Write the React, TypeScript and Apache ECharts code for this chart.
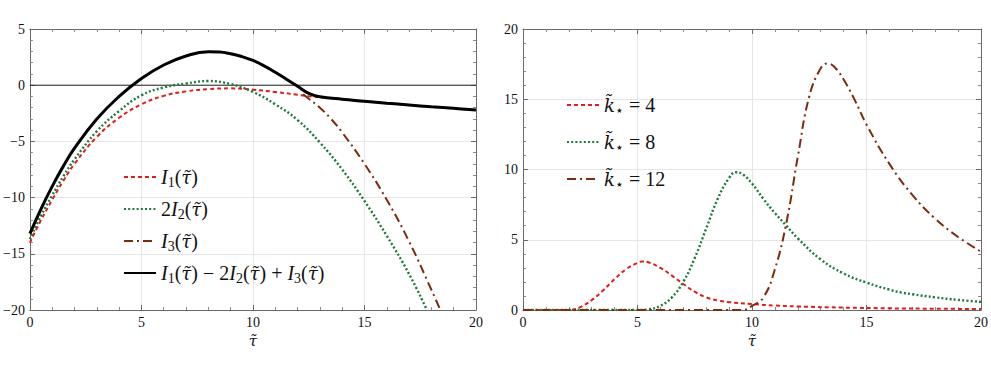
import React, { useEffect, useRef } from 'react';
import * as echarts from 'echarts';

// ---------- Left panel data ----------
const i1Tau = [0, 0.5, 1, 1.5, 2, 3, 4, 5, 6, 7, 8, 9, 10, 11, 12, 12.5, 13, 14, 15, 16, 17, 18, 19, 20];
const i1Val = [-14.0, -12.0, -10.2, -8.5, -7.0, -4.6, -2.9, -1.7, -0.95, -0.55, -0.35, -0.28, -0.4, -0.6, -0.85, -0.98, -1.08, -1.25, -1.42, -1.6, -1.76, -1.92, -2.06, -2.2];

const i2Tau = [0, 0.5, 1, 1.5, 2, 3, 4, 5, 6, 7, 8, 9, 10, 11, 12, 13, 14, 15, 16, 17, 17.8];
const i2Val = [-13.7, -11.6, -9.8, -8.1, -6.6, -4.1, -2.3, -0.9, -0.2, 0.15, 0.37, 0.1, -0.6, -1.7, -3.1, -5.1, -7.5, -10.3, -13.4, -16.8, -20.0];

const i3Tau = [12.25, 12.5, 13, 13.5, 14, 15, 16, 17, 18, 18.4];
const i3Val = [-0.8, -1.2, -2.0, -3.0, -4.2, -7.0, -10.2, -13.9, -18.2, -20.0];

const combTau = [0, 0.5, 1, 1.5, 2, 3, 4, 5, 6, 7, 8, 8.5, 9, 9.5, 10, 10.5, 11, 11.5, 12, 12.5, 13, 14, 15, 16, 17, 18, 19, 20];
const combVal = [-13.2, -11.0, -9.0, -7.2, -5.6, -3.0, -1.0, 0.6, 1.8, 2.6, 2.97, 2.95, 2.8, 2.55, 2.2, 1.72, 1.15, 0.53, -0.1, -0.72, -1.02, -1.25, -1.42, -1.6, -1.76, -1.92, -2.06, -2.2];

// ---------- Right panel data ----------
const k4Tau = [0, 1, 2, 2.2, 2.5, 3, 3.5, 4, 4.5, 5, 5.2, 5.5, 6, 6.5, 7, 7.5, 8, 8.5, 9, 10, 11, 12, 14, 16, 18, 20];
const k4Val = [0, 0, 0, 0.03, 0.2, 0.7, 1.4, 2.2, 2.9, 3.35, 3.45, 3.38, 3.0, 2.45, 1.85, 1.3, 0.9, 0.68, 0.56, 0.42, 0.32, 0.25, 0.17, 0.12, 0.09, 0.07];

const k8Tau = [0, 5, 5.5, 6, 6.5, 7, 7.5, 8, 8.5, 9, 9.3, 9.6, 10, 10.5, 11, 11.5, 12, 13, 14, 15, 16, 16.5, 17, 18, 19, 20];
const k8Val = [0, 0, 0.05, 0.3, 0.9, 2.0, 3.7, 5.8, 7.9, 9.4, 9.8, 9.65, 9.0, 7.9, 6.9, 6.0, 5.1, 3.6, 2.6, 1.95, 1.45, 1.25, 1.12, 0.9, 0.72, 0.58];

const k12Tau = [0, 9.6, 10, 10.5, 11, 11.5, 12, 12.5, 13, 13.3, 13.6, 14, 14.5, 15, 16, 17, 18, 19, 20];
const k12Val = [0, 0, 0.3, 0.9, 2.9, 6.2, 10.9, 15.2, 17.2, 17.55, 17.3, 16.4, 14.9, 13.2, 10.4, 8.2, 6.5, 5.2, 4.15];

const leftNames = ['I₁(τ̃)', '2I₂(τ̃)', 'I₃(τ̃)', 'I₁(τ̃) − 2I₂(τ̃) + I₃(τ̃)'];
const rightNames = ['k̃⋆ = 4', 'k̃⋆ = 8', 'k̃⋆ = 12'];
const leftTicks = [-20, -15, -10, -5, 0, 5];
const rightTicks = [0, 5, 10, 15, 20];

const SERIF = '"Liberation Serif", "DejaVu Serif", serif';
const MATH = '"DejaVu Serif", "Liberation Serif", serif';
const RED = '#dc1f1a';
const GREEN = '#1b7a3a';
const BROWN = '#7a2c0c';

const zip = (a: number[], b: number[]) => a.map((x, i) => [x, b[i]]);

const richLabels: Record<string, string> = {
  [leftNames[0]]: '{it|I}{sub|1}{rm|(}{tl|τ̃}{rm|)}',
  [leftNames[1]]: '{rm|2}{it|I}{sub|2}{rm|(}{tl|τ̃}{rm|)}',
  [leftNames[2]]: '{it|I}{sub|3}{rm|(}{tl|τ̃}{rm|)}',
  [leftNames[3]]: '{it|I}{sub|1}{rm|(}{tl|τ̃}{rm|) − 2}{it|I}{sub|2}{rm|(}{tl|τ̃}{rm|) + }{it|I}{sub|3}{rm|(}{tl|τ̃}{rm|)}',
  [rightNames[0]]: '{tl|k̃}{sub|⋆}{rm| = 4}',
  [rightNames[1]]: '{tl|k̃}{sub|⋆}{rm| = 8}',
  [rightNames[2]]: '{tl|k̃}{sub|⋆}{rm| = 12}',
};

const fmt = (v: number) => (v < 0 ? '−' + Math.abs(v) : String(v));

function makeRich(size: number, lh: number) {
  return {
    it: { fontFamily: SERIF, fontStyle: 'italic', fontSize: size, color: '#111', lineHeight: lh },
    tl: { fontFamily: MATH, fontStyle: 'italic', fontSize: size - 2, color: '#111', lineHeight: lh },
    rm: { fontFamily: SERIF, fontSize: size, color: '#111', lineHeight: lh },
    sub: { fontFamily: SERIF, fontSize: Math.round(size * 0.68), color: '#111', lineHeight: lh, padding: [10, 0, 0, 0] },
  };
}

function axis(gridIndex: number, min: number, max: number, interval: number, position: string, main: boolean, name?: string) {
  return {
    type: 'value',
    gridIndex,
    min,
    max,
    interval,
    position,
    name: name,
    nameLocation: 'middle',
    nameGap: 23,
    nameTextStyle: { fontFamily: MATH, fontStyle: 'italic', fontSize: 15, color: '#111' },
    axisLine: { show: true, onZero: false, lineStyle: { color: '#6a6a6a', width: 1 } },
    axisTick: { show: true, inside: true, length: 5, lineStyle: { color: '#6a6a6a' } },
    minorTick: { show: true, splitNumber: 5, length: 3, lineStyle: { color: '#8a8a8a' } },
    splitLine: { show: main, lineStyle: { color: '#e6e6e6', width: 1 } },
    axisLabel: { show: main, fontFamily: SERIF, fontSize: 14, color: '#111', formatter: fmt, margin: 5 },
  };
}

function line(name: string, data: number[][], color: string, type: any, width: number, panel: number, extra: any = {}) {
  return {
    type: 'line',
    name,
    data,
    xAxisIndex: panel * 2,
    yAxisIndex: panel * 2,
    symbol: 'none',
    smooth: 0.45,
    lineStyle: { color, type, width, cap: 'butt' },
    itemStyle: { color },
    clip: true,
    ...extra,
  };
}

const legendBase = {
  orient: 'vertical',
  itemWidth: 32,
  itemHeight: 14,
  itemStyle: { opacity: 0, borderWidth: 0 },
  formatter: (n: string) => richLabels[n] || n,
};

export default function App() {
  const ref = useRef<HTMLDivElement>(null);
  useEffect(() => {
    const chart = echarts.init(ref.current!, null, { renderer: 'svg' });
    const option: any = {
      animation: false,
      backgroundColor: '#ffffff',
      grid: [
        { left: 27, top: 29, width: 449, height: 281 },
        { left: 523, top: 29, width: 458, height: 281 },
      ],
      xAxis: [
        axis(0, 0, 20, 5, 'bottom', true, 'τ̃'),
        axis(0, 0, 20, 5, 'top', false),
        axis(1, 0, 20, 5, 'bottom', true, 'τ̃'),
        axis(1, 0, 20, 5, 'top', false),
      ],
      yAxis: [
        axis(0, leftTicks[0], leftTicks[leftTicks.length - 1], 5, 'left', true),
        axis(0, leftTicks[0], leftTicks[leftTicks.length - 1], 5, 'right', false),
        axis(1, rightTicks[0], rightTicks[rightTicks.length - 1], 5, 'left', true),
        axis(1, rightTicks[0], rightTicks[rightTicks.length - 1], 5, 'right', false),
      ],
      legend: [
        {
          ...legendBase,
          data: leftNames,
          left: 118,
          top: 160,
          itemGap: 8,
          textStyle: { lineHeight: 20, rich: makeRich(20, 20) },
        },
        {
          ...legendBase,
          data: rightNames,
          left: 561,
          top: 88,
          itemGap: 13,
          textStyle: { lineHeight: 24, rich: makeRich(20, 24) },
        },
      ],
      series: [
        line('zero', [[0, 0], [20, 0]], '#222', 'solid', 1, 0, { smooth: false, silent: true }),
        line(leftNames[0], zip(i1Tau, i1Val), RED, [4, 3], 2, 0),
        line(leftNames[1], zip(i2Tau, i2Val), GREEN, [2, 2.2], 2.4, 0),
        line(leftNames[2], zip(i3Tau, i3Val), BROWN, [9, 4, 2, 4], 2, 0),
        line(leftNames[3], zip(combTau, combVal), '#000', 'solid', 3, 0),
        line(rightNames[0], zip(k4Tau, k4Val), RED, [4, 3], 2, 1),
        line(rightNames[1], zip(k8Tau, k8Val), GREEN, [2, 2.2], 2.4, 1),
        line(rightNames[2], zip(k12Tau, k12Val), BROWN, [9, 4, 2, 4], 2, 1),
      ],
    };
    chart.setOption(option);
    return () => chart.dispose();
  }, []);
  return (
    <div
      ref={ref}
      style={{ position: 'fixed', left: 0, top: 0, width: 991, height: 377, background: '#fff' }}
    />
  );
}
